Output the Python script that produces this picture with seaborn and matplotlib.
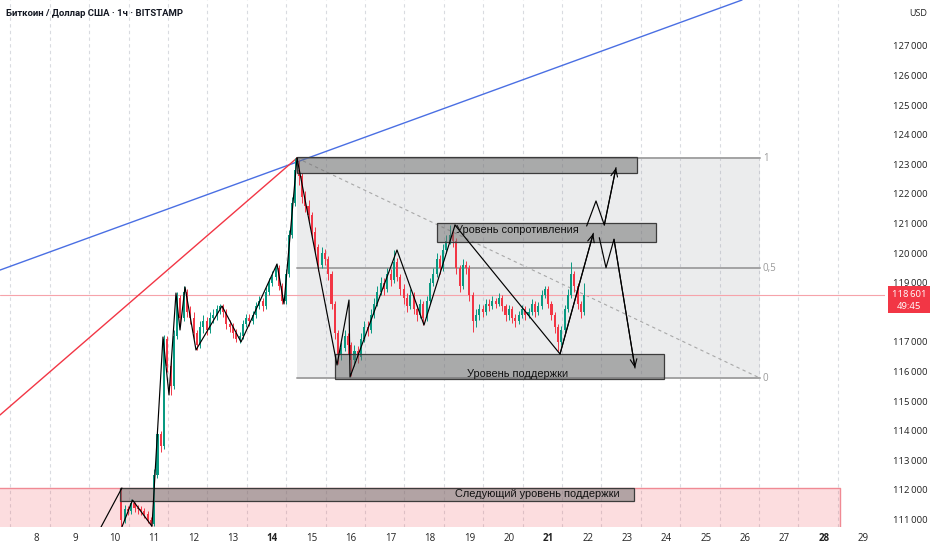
import numpy as np
import pandas as pd
import matplotlib
matplotlib.use("Agg")
import matplotlib.pyplot as plt
import seaborn as sns
from matplotlib.patches import Rectangle
from matplotlib.transforms import blended_transform_factory

sns.set_theme(style="white")
plt.rcParams['font.family'] = ['Open Sans', 'DejaVu Sans']

# ---------------- data ----------------
title = "Биткоин / Доллар США · 1ч · BITSTAMP"
candle_start = "2025-07-10 04:00"
first_open = 111900
closes = [111000, 111350, 111300, 111550, 111400, 111350, 111300, 111200, 111000, 110850,
          112500, 113900, 113500, 117100, 116200, 115500, 117200, 118500, 117800, 118700,
          118000, 117800, 117300, 116900, 117500, 117700, 117400, 117800, 117900, 118100,
          118200, 118000, 117600, 117500, 117300, 117100, 117200, 117600, 117800, 117700,
          117900, 118200, 118400, 118200, 118700, 119000, 119200, 119500, 118900, 118400,
          119300, 120600, 121700, 122800, 122600, 121900, 121600, 121300, 120700, 120200,
          119600, 120000, 119800, 119300, 118300, 117300, 116600, 116800, 117200, 116900,
          116400, 116700, 116500, 117100, 117500, 117400, 117900, 118300, 118700, 119000,
          118800, 119300, 119100, 119700, 119200, 118800, 118500, 118200, 118600, 118100,
          117900, 118300, 117800, 118400, 119000, 119300, 119800, 119500, 120100, 120400,
          120600, 120400, 119500, 118900, 119600, 119500, 118600, 117700, 117900, 118100,
          118000, 118300, 118200, 118400, 118300, 118500, 118200, 117900, 118100, 117800,
          117700, 117900, 118100, 117900, 118000, 118300, 118000, 118200, 118600, 118800,
          118300, 117900, 117500, 117000, 117400, 118100, 118600, 119300, 118900, 118300,
          118000, 118600]
highs = [112070, 111500, 111450, 111700, 111600, 111500, 111450, 111400, 111300, 111100,
         112700, 114100, 114000, 117250, 117200, 116400, 117400, 118700, 118600, 118880,
         118800, 118200, 118000, 117400, 117700, 117900, 117850, 118000, 118100, 118250,
         118300, 118300, 118100, 117750, 117650, 117450, 117350, 117750, 117950, 117950,
         118050, 118350, 118550, 118500, 118850, 119150, 119400, 119650, 119600, 119000,
         119450, 120800, 121900, 123220, 123150, 122700, 122100, 121800, 121400, 120900,
         120300, 120200, 120150, 119900, 119400, 118400, 117400, 117000, 117400, 117300,
         117000, 116900, 116850, 117300, 117700, 117700, 118100, 118500, 118900, 119200,
         119150, 119500, 119450, 120100, 119850, 119300, 118950, 118650, 118800, 118700,
         118250, 118450, 118400, 118550, 119150, 119500, 120000, 119950, 120300, 120600,
         120950, 120800, 120500, 119600, 119800, 119750, 119600, 118700, 118100, 118300,
         118250, 118450, 118450, 118550, 118500, 118650, 118600, 118300, 118250, 118200,
         117950, 118050, 118250, 118200, 118150, 118450, 118400, 118350, 118750, 118900,
         118900, 118400, 118000, 117600, 117550, 118250, 118800, 119700, 119400, 119000,
         118400, 119000]
lows = [110800, 110900, 111150, 111200, 111250, 111200, 111150, 111050, 110900, 110780,
        110800, 112400, 113300, 113400, 116000, 115200, 115400, 117100, 117600, 117700,
        117850, 117600, 117100, 116730, 116800, 117300, 117250, 117300, 117650, 117750,
        117950, 117850, 117450, 117350, 117150, 117000, 116950, 117100, 117500, 117550,
        117600, 117800, 118100, 118050, 118100, 118600, 118900, 119100, 118750, 118280,
        118300, 119200, 120500, 121600, 122300, 121700, 121400, 121100, 120500, 120000,
        119400, 119500, 119600, 119100, 118100, 117100, 116250, 116400, 116700, 116600,
        115850, 116200, 116300, 116400, 117000, 117200, 117300, 117800, 118200, 118600,
        118600, 118700, 118900, 119000, 119050, 118600, 118300, 118000, 118100, 117950,
        117700, 117800, 117570, 117700, 118300, 118900, 119200, 119300, 119400, 120000,
        120300, 120200, 119300, 118700, 118800, 119300, 118400, 117340, 117500, 117750,
        117850, 117900, 118050, 118100, 118150, 118200, 118050, 117700, 117750, 117650,
        117500, 117600, 117800, 117750, 117800, 117900, 117850, 117900, 118100, 118500,
        118150, 117750, 117300, 116700, 116900, 117300, 118000, 118500, 118700, 118100,
        117800, 117900]

last_price = 118601
last_price_text = "118\u2009601"
countdown = "49:45"
# 118 000 sits under the red last-price label, so it is not written
price_ticks = [111000, 112000, 113000, 114000, 115000, 116000, 117000, 119000,
               120000, 121000, 122000, 123000, 124000, 125000, 126000, 127000]
day_ticks = list(range(8, 30))
bold_days = [14, 21, 28]

# drawings (day of month, price)
blue_line = [(7.086, 119430), (14.62, 123080)]
red_days = [7.086, 14.624]
red_prices = [114534, 123216]
fib_days = [14.624, 26.376]
fib_prices = [115780, 123216]
fib_levels = [0, 0.5, 1]
fib_labels = ["0", "0,5", "1"]
res_top_box = (14.624, 23.254, 122700, 123250)
res_box = (18.178, 23.736, 120380, 121020)
sup_box = (15.589, 23.939, 115750, 116600)
next_box = (10.132, 23.178, 111628, 112068)
pink_zone = (7.0, 28.406, 108000, 112068)
res_label = ("Уровень сопротивления", 20.23, 120780)
sup_label = ("Уровень поддержки", 20.22, 115930)
next_label = ("Следующий уровень поддержки", 20.73, 111860)

zz_a = ([9.65, 10.18], [110750, 112068])
zz_b = ([10.18, 10.45, 10.94], [110750, 111660, 110780])
zz_c = ([10.944, 11.223, 11.376, 11.553, 11.655, 11.782, 12.061, 12.721, 13.203, 14.117, 14.294, 14.624],
        [110784, 117169, 115210, 118655, 117406, 118858, 116730, 118216, 117000, 119635, 118284, 123216])
zz_d = ([14.624, 15.640, 15.944, 15.970, 17.162, 17.848, 18.635],
        [123216, 116223, 118419, 115818, 120108, 117574, 120950])
arrow1 = ([18.635, 21.30, 22.145], [120950, 116595, 120672])
arrow2 = ([21.976, 22.213, 22.424, 22.721], [120919, 121764, 120953, 122889])
arrow3 = ([22.297, 22.467, 22.670, 23.203], [120524, 119510, 120470, 116122])

# ---------------- figure ----------------
W, H = 932, 550
fig = plt.figure(figsize=(W / 100, H / 100), dpi=100)
ax = fig.add_axes([0, 23 / H, 885 / W, 527 / H])
ax.set_xlim(7.0863, 29.548)
ax.set_ylim(110750, 128554)
for s in ax.spines.values():
    s.set_visible(False)

UP, DN = "#089981", "#f23645"

# grid (dashed vertical)
for d in day_ticks:
    ax.axvline(d - 0.65, color="#d9dbe0", lw=0.8, ls=(0, (3, 3)), zorder=0.5)

# pink zone
x0, x1, y0, y1 = pink_zone
ax.add_patch(Rectangle((x0, y0), x1 - x0, y1 - y0, facecolor="#f23645", alpha=0.17,
                       edgecolor="none", zorder=1))
ax.plot([x0, x1, x1], [y1, y1, y0], color="#f08a94", lw=1.0, zorder=1.1)

# fib box
ax.add_patch(Rectangle((fib_days[0], fib_prices[0]), fib_days[1] - fib_days[0],
                       fib_prices[1] - fib_prices[0], facecolor="#787b86", alpha=0.14,
                       edgecolor="none", zorder=1))
for lv, lab in zip(fib_levels, fib_labels):
    p = fib_prices[0] + lv * (fib_prices[1] - fib_prices[0])
    ax.plot(fib_days, [p, p], color="#a3a3a3", lw=1.4, zorder=1.2)
    ax.text(fib_days[1] + 0.07, p, lab, color="#9a9a9a", fontsize=7, va="center", ha="left", zorder=6)
ax.plot(fib_days, [fib_prices[1], fib_prices[0]], color="#a8a8a8", lw=0.8, ls=(0, (3, 3)), zorder=1.3)

# current price line
ax.axhline(last_price, color="#f6a3aa", lw=0.8, zorder=1.4)

# trend lines
ax.axline(blue_line[0], blue_line[1], color="#4a6fe3", lw=1.0, zorder=2)
ax.plot(red_days, red_prices, color="#f23645", lw=1.0, zorder=2)

# candles
ts = pd.date_range(candle_start, periods=len(closes), freq="2h")
days = (ts - pd.Timestamp("2025-07-01")) / pd.Timedelta(days=1) + 1
opens = [first_open] + closes[:-1]
cols = [UP if c >= o else DN for o, c in zip(opens, closes)]
ax.vlines(days, lows, highs, colors=cols, lw=0.7, zorder=3)
bottoms = [min(o, c) for o, c in zip(opens, closes)]
heights = [max(abs(c - o), 20) for o, c in zip(opens, closes)]
ax.bar(days, heights, bottom=bottoms, width=0.052, color=cols, linewidth=0, zorder=3)

# gray boxes
for (a, b, lo, hi) in [res_top_box, res_box, sup_box, next_box]:
    ax.add_patch(Rectangle((a, lo), b - a, hi - lo, facecolor="#6e6e6e", alpha=0.52,
                           edgecolor="none", zorder=4))
    ax.add_patch(Rectangle((a, lo), b - a, hi - lo, facecolor="none",
                           edgecolor="#3c3c3c", lw=0.9, zorder=4.1))

# zigzag drawings
for dd, pp in [zz_a, zz_b, zz_c, zz_d, arrow1, arrow2, arrow3]:
    sns.lineplot(x=dd, y=pp, sort=False, estimator=None, color="black", lw=0.85, ax=ax, zorder=5)
for dd, pp in [arrow1, arrow2, arrow3]:
    ax.annotate("", xy=(dd[-1], pp[-1]), xytext=(dd[-2], pp[-2]),
                arrowprops=dict(arrowstyle="->,head_length=0.45,head_width=0.2", color="black",
                                lw=0.8, shrinkA=0, shrinkB=0), zorder=5)

# labels
for txt, dx, py in [res_label, sup_label, next_label]:
    ax.text(dx, py, txt, fontsize=7.9, color="#111111", ha="center", va="center",
            family=["Liberation Sans", "DejaVu Sans"], zorder=6)

# axes ticks
ax.set_xticks(day_ticks)
ax.set_xticklabels([str(d) for d in day_ticks])
for lab, d in zip(ax.get_xticklabels(), day_ticks):
    lab.set_fontweight("bold" if d in bold_days else "normal")
ax.tick_params(axis="x", length=0, pad=4, labelsize=7, labelcolor="#222222")
ax.yaxis.tick_right()
ax.set_yticks(price_ticks)
ax.set_yticklabels([f"{v // 1000}\u2009{v % 1000:03d}" for v in price_ticks])
ax.tick_params(axis="y", length=0, pad=6, labelsize=6.8, labelcolor="#222222")
ax.set_xlabel("")
ax.set_ylabel("")

# price label box
tr = blended_transform_factory(ax.transAxes, ax.transData)
ax.add_patch(Rectangle((888 / 885, 117980), 42 / 885, 910, transform=tr, facecolor="#f23645",
                       edgecolor="none", clip_on=False, zorder=10))
ax.text(909 / 885, last_price, last_price_text, transform=tr, color="white", fontsize=6.8,
        ha="center", va="center", clip_on=False, zorder=11)
ax.text(909 / 885, 118200, countdown, transform=tr, color="white", fontsize=6.8,
        ha="center", va="center", clip_on=False, zorder=11)

fig.text(918 / W, 1 - 14 / H, "USD", fontsize=6.5, color="#222222", ha="center", va="center")
fig.text(6 / W, 1 - 14 / H, title, fontsize=6.8, fontweight="bold", color="#131722",
         ha="left", va="center", family=["Roboto", "DejaVu Sans"])

fig.savefig("out.png", dpi=100)
